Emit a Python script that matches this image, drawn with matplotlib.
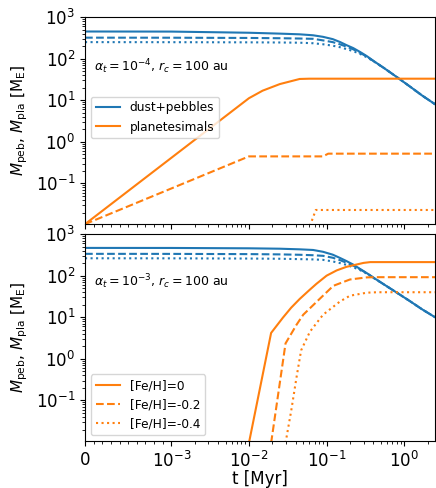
import matplotlib

matplotlib.use("Agg")
import matplotlib.pyplot as plt
from matplotlib.ticker import FixedLocator

# ---- 数据----
# 尘埃+pebble 质量的时间网格（两图共用）
t_peb = [0, 1e-3, 0.01, 0.025, 0.045, 0.067, 0.09, 0.12, 0.15, 0.18, 0.22, 0.27,
         0.33, 0.4, 0.56, 0.84, 1.2, 1.7, 2.5]

# 上图：alpha_t = 1e-4
peb_a_0 = [450, 448, 420, 400, 385, 365, 335, 295, 250, 212, 180, 145,
           115, 89, 58, 34, 21, 13, 8]
peb_a_02 = [320, 319, 315, 310, 305, 300, 275, 250, 220, 195, 168, 138,
            112, 88, 58, 34, 21, 13, 8]
peb_a_04 = [250, 249, 247, 245, 242, 235, 222, 205, 188, 170, 152, 130,
            108, 87, 58, 34, 21, 13, 8]

t_pla_a_0 = [0, 0.01, 0.015, 0.025, 0.045, 0.06, 2.5]
pla_a_0 = [0.0105, 11.2, 17, 24.5, 32.5, 33, 33]
t_pla_a_02 = [0, 0.01, 0.09, 0.105, 2.5]
pla_a_02 = [0.0105, 0.447, 0.447, 0.52, 0.52]
t_pla_a_04 = [0.061, 0.0726, 2.5]
pla_a_04 = [0.0095, 0.023, 0.023]

# 下图：alpha_t = 1e-3
peb_b_0 = [465, 464, 455, 445, 430, 415, 375, 320, 265, 225, 185, 145,
           115, 90, 60, 37, 24, 15.5, 10]
peb_b_02 = [335, 334, 330, 325, 318, 310, 300, 270, 235, 205, 175, 142,
            114, 90, 60, 37, 24, 15.5, 10]
peb_b_04 = [262, 261, 258, 255, 250, 246, 240, 220, 200, 182, 160, 136,
            112, 89, 60, 37, 24, 15.5, 10]

t_pla_b_0 = [0.01, 0.0193, 0.0274, 0.035, 0.045, 0.06, 0.074, 0.1, 0.135, 0.18,
             0.245, 0.3, 0.365, 2.5]
pla_b_0 = [0.0095, 4.2, 9.8, 17, 27.5, 45, 63.7, 100, 134, 163, 186, 203, 212, 212]
t_pla_b_02 = [0.0193, 0.0296, 0.041, 0.05, 0.077, 0.122, 0.2, 0.33, 0.45, 2.5]
pla_b_02 = [0.0095, 2.35, 6.6, 11.5, 25, 57, 81, 91, 92, 92]
t_pla_b_04 = [0.0296, 0.035, 0.041, 0.047, 0.061, 0.09, 0.149, 0.2, 0.33, 0.45, 2.5]
pla_b_04 = [0.0095, 0.056, 0.36, 1.6, 4.5, 11.5, 24, 33, 39, 40, 40]

labels_feh = ["[Fe/H]=0", "[Fe/H]=-0.2", "[Fe/H]=-0.4"]
styles = ["-", "--", ":"]
C_PEB = "tab:blue"
C_PLA = "tab:orange"

fig, (ax1, ax2) = plt.subplots(2, 1, sharex=True, figsize=(4.36, 4.88), dpi=100)
fig.subplots_adjust(left=0.195, right=0.998, top=0.965, bottom=0.096, hspace=0.048)

# ---- 上图 ----
for y, ls in zip([peb_a_0, peb_a_02, peb_a_04], styles):
    ax1.plot(t_peb, y, ls, color=C_PEB)
for t, y, ls in zip(
    [t_pla_a_0, t_pla_a_02, t_pla_a_04], [pla_a_0, pla_a_02, pla_a_04], styles
):
    ax1.plot(t, y, ls, color=C_PLA)
h_peb = ax1.plot([], [], "-", color=C_PEB, label="dust+pebbles")[0]
h_pla = ax1.plot([], [], "-", color=C_PLA, label="planetesimals")[0]
ax1.legend(handles=[h_peb, h_pla], loc="center left", bbox_to_anchor=(0, 0.515),
           fontsize=8.7)
ax1.text(0.025, 0.76, r"$\alpha_t = 10^{-4}$, $r_c = 100$ au", transform=ax1.transAxes,
         fontsize=9, va="center")

# ---- 下图 ----
for y, ls in zip([peb_b_0, peb_b_02, peb_b_04], styles):
    ax2.plot(t_peb, y, ls, color=C_PEB)
for t, y, ls, lab in zip(
    [t_pla_b_0, t_pla_b_02, t_pla_b_04], [pla_b_0, pla_b_02, pla_b_04], styles, labels_feh
):
    ax2.plot(t, y, ls, color=C_PLA, label=lab)
ax2.legend(loc="lower left", fontsize=8.7)
ax2.text(0.025, 0.77, r"$\alpha_t = 10^{-3}$, $r_c = 100$ au", transform=ax2.transAxes,
         fontsize=9, va="center")

# 次刻度：线性段每 1e-4 一个，对数段 2..9
minor_x = [k * 1e-4 for k in range(1, 10)]
for d in (-3, -2, -1, 0):
    minor_x += [k * 10.0 ** d for k in range(2, 10)]

for ax in (ax1, ax2):
    ax.set_xscale("symlog", linthresh=1e-3)
    ax.set_yscale("log")
    ax.set_xlim(0, 2.5)
    ax.set_ylim(0.0105, 1000)
    ax.xaxis.set_minor_locator(FixedLocator(minor_x))
    ax.set_ylabel(r"$M_{\rm peb}$, $M_{\rm pla}$ [M$_{\rm E}$]", fontsize=11)
    ax.tick_params(labelsize=12)

ax2.set_xlabel("t [Myr]", fontsize=12, labelpad=-1)

fig.savefig("out.png", dpi=100)
